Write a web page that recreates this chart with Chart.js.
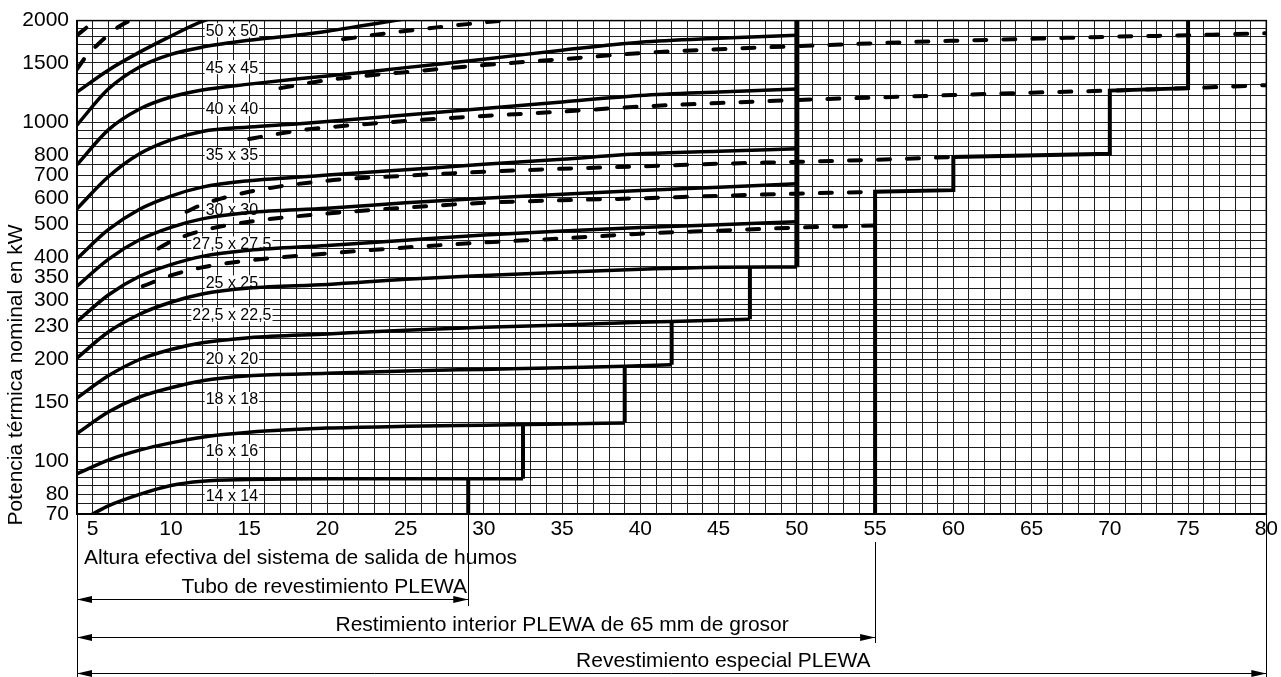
<!DOCTYPE html>
<html>
<head>
<meta charset="utf-8">
<script src="https://cdn.jsdelivr.net/npm/chart.js"></script>
<style>
  html, body { margin: 0; padding: 0; background: #fff; }
  canvas { display: block; }
</style>
</head>
<body>
<canvas id="chart" width="1281" height="677"></canvas>
<script>
// ---- axis ticks / grid ----
const xTickLabels = [5, 10, 15, 20, 25, 30, 35, 40, 45, 50, 55, 60, 65, 70, 75, 80];
const yTickValues = [70, 80, 100, 150, 200, 250, 300, 350, 400, 500, 600, 700, 800, 1000, 1500, 2000];
const yTickText   = ['70', '80', '100', '150', '200', '230', '300', '350', '400', '500', '600', '700', '800', '1000', '1500', '2000'];
const yGrid = [70, 75, 80, 85, 90, 95, 100, 110, 120, 130, 140, 150, 160, 170, 180, 190, 200,
  210, 220, 230, 240, 250, 260, 270, 280, 290, 300, 325, 350, 375, 400, 425, 450, 475, 500,
  550, 600, 650, 700, 750, 800, 850, 900, 950, 1000, 1100, 1200, 1300, 1400, 1500, 1600, 1700, 1800, 1900, 2000];

// ---- solid curves: height (m) -> nominal power (kW) ----
const h14 = [4, 5, 6, 8, 10, 12, 15, 20, 25, 32.5];
const p14 = [66.5, 70, 74, 80, 85, 87.5, 88.5, 89, 89, 89];
const h16 = [4, 6, 8, 10, 12, 15, 20, 25, 30, 35, 39];
const p16 = [92, 101, 108, 113.5, 118, 122, 125.5, 127, 128, 129, 130];
const h18 = [4, 6, 8, 10, 12, 15, 20, 25, 30, 35, 39, 42];
const p18 = [121, 140, 155, 165, 173, 179, 182, 185, 187, 189, 191, 193];
const h20 = [4, 6, 8, 10, 12, 15, 20, 25, 30, 35, 40, 42, 47];
const p20 = [154, 179, 200, 214, 224, 232, 238, 244, 249, 253, 257.5, 259, 263];
const h225 = [4, 6, 8, 10, 12, 15, 20, 25, 30, 35, 40, 45, 50];
const p225 = [202, 241, 272, 295, 312, 325, 333, 345, 354, 362, 369, 374, 375];
const p25  = [259, 310, 352, 381, 403, 420, 434, 450, 466, 479, 490, 500, 510];
const p275 = [329, 395, 451, 491, 520, 543, 559, 580, 598, 615, 630, 645, 660];
const h30 = [4, 6, 8, 10, 12, 15, 18, 20, 25, 30, 35, 40, 45, 50];
const p30 = [397, 483, 555, 607, 645, 674, 690, 700, 726, 753, 780, 809, 823, 837];
const p35 = [557, 692, 809, 889, 942, 971, 991, 1007, 1053, 1101, 1151, 1202, 1231, 1256];
const p40 = [751, 952, 1097, 1190, 1248, 1299, 1344, 1372, 1453, 1539, 1636, 1727, 1774, 1810];
const h45 = [4, 6, 8, 10, 12, 15, 18, 20, 22, 24, 26];
const p45 = [984, 1256, 1460, 1590, 1670, 1750, 1810, 1860, 1924, 1991, 2060];
const h50 = [4, 6, 8, 10, 12, 14];
const p50 = [1231, 1428, 1614, 1800, 1990, 2120];

// ---- dashed curves ----
const hd25 = [8.2, 10, 12, 15, 20, 25, 30, 35, 40, 45, 50, 55];
const pd25 = [329, 354, 374, 392, 411, 428, 443, 455, 470, 480, 490, 497];
const hd275 = [9.2, 10, 12, 15, 20, 25, 30, 35, 40, 45, 50, 55];
const pd275 = [425, 446, 480, 510, 539, 561, 580, 590, 598, 608, 617, 625];
const hd30 = [11, 12, 15, 20, 25, 30, 35, 40, 45, 50, 55, 60];
const pd30 = [546, 573, 625, 674, 697, 716, 731, 743, 756, 766, 777, 792];
const hd35 = [15, 18, 20, 25, 30, 35, 40, 45, 50, 55, 60, 65, 70, 75, 80];
const pd35 = [895, 945, 968, 1011, 1046, 1078, 1115, 1142, 1166, 1186, 1206, 1226, 1243, 1264, 1290];
const hd40 = [17, 20, 25, 30, 35, 40, 45, 50, 55, 60, 65, 70, 75, 80];
const pd40 = [1264, 1335, 1409, 1478, 1539, 1603, 1647, 1681, 1715, 1744, 1768, 1792, 1810, 1835];
const hd45 = [21, 24, 27, 30, 33];
const pd45 = [1762, 1840, 1910, 1975, 2040];
const hdA = [4, 4.64, 5.28, 5.98, 6.62, 7.38, 8];
const pdA = [1438, 1581, 1692, 1810, 1912, 2000, 2060];
const hdB = [4, 4.5, 5, 5.5];
const pdB = [1810, 1890, 1975, 2060];

// ---- limit steps (null = break) ----
const hStepL = [29, 29, null, 32.5, 32.5, null, 39, 39, null, 42, 42, null, 47, 47];
const pStepL = [69, 89, null, 89, 128.5, null, 130, 191, null, 193, 259, null, 263, 374];
const hStepR = [55, 55, 60, 60, 70, 70, 75, 75];
const pStepR = [69, 625, 632, 792, 809, 1243, 1264, 2100];
const hBar50 = [50, 50];
const pBar50 = [374, 2100];

// ---- curve labels ----
const sizeLabels = ['14 x 14', '16 x 16', '18 x 18', '20 x 20', '22,5 x 22,5', '25 x 25',
  '27,5 x 27,5', '30 x 30', '35 x 35', '40 x 40', '45 x 45', '50 x 50'];
const labelKw = [79.3, 107.5, 152.9, 201.8, 271.8, 337.6, 440, 553, 803, 1097, 1458, 1873];
const labelAt = 13.9;

const FONT = "'Liberation Sans', Arial, sans-serif";

function pts(hs, ps) {
  return hs.map((h, i) => ({ x: h === null ? NaN : h, y: ps[i] }));
}
function solid(hs, ps, w) {
  return { data: pts(hs, ps), borderColor: '#000', borderWidth: w || 3.5, pointRadius: 0,
    fill: false, cubicInterpolationMode: 'monotone', borderCapStyle: 'butt', borderJoinStyle: 'round' };
}
function dashed(hs, ps) {
  return { data: pts(hs, ps), borderColor: '#000', borderWidth: 4, pointRadius: 0, fill: false,
    cubicInterpolationMode: 'monotone', borderDash: [12, 17], borderCapStyle: 'round' };
}
function poly(hs, ps, w) {
  return { data: pts(hs, ps), borderColor: '#000', borderWidth: w, pointRadius: 0, fill: false,
    tension: 0, spanGaps: false, borderCapStyle: 'butt', borderJoinStyle: 'miter' };
}

const datasets = [
  solid(h14, p14), solid(h16, p16), solid(h18, p18), solid(h20, p20),
  solid(h225, p225), solid(h225, p25), solid(h225, p275),
  solid(h30, p30), solid(h30, p35), solid(h30, p40), solid(h45, p45), solid(h50, p50),
  dashed(hd25, pd25), dashed(hd275, pd275), dashed(hd30, pd30), dashed(hd35, pd35),
  dashed(hd40, pd40), dashed(hd45, pd45), dashed(hdA, pdA), dashed(hdB, pdB),
  poly(hStepL, pStepL, 4), poly(hStepR, pStepR, 4), poly(hBar50, pBar50, 5)
];

// bottom dimension arrows: extent in m, text centre in m
const dimTo    = [29, 55, 80];
const dimText  = ['Tubo de revestimiento PLEWA', 'Restimiento interior PLEWA de 65 mm de grosor', 'Revestimiento especial PLEWA'];
const dimTextX = [19.8, 35, 45.3];
const dimLineY = [599, 637, 673];

function arrowHead(ctx, x, y, dir) {
  ctx.beginPath();
  ctx.moveTo(x, y);
  ctx.lineTo(x - dir * 15, y - 3.5);
  ctx.lineTo(x - dir * 15, y + 3.5);
  ctx.closePath();
  ctx.fill();
}

const extras = {
  id: 'extras',
  beforeDatasetsDraw(chart) {
    const ctx = chart.ctx, xs = chart.scales.x, ys = chart.scales.y;
    ctx.save();
    ctx.font = '16px ' + FONT;
    ctx.textAlign = 'center';
    ctx.textBaseline = 'middle';
    sizeLabels.forEach((t, i) => {
      const px = xs.getPixelForValue(labelAt), py = ys.getPixelForValue(labelKw[i]);
      const w = ctx.measureText(t).width;
      ctx.fillStyle = '#fff';
      ctx.fillRect(px - w / 2 - 1, py - 7, w + 2, 14);
      ctx.fillStyle = '#000';
      ctx.fillText(t, px, py + 1);
    });
    ctx.restore();
  },
  afterDraw(chart) {
    const ctx = chart.ctx, a = chart.chartArea, xs = chart.scales.x;
    ctx.save();
    ctx.strokeStyle = '#000';
    ctx.lineWidth = 1.5;
    ctx.strokeRect(a.left, a.top, a.right - a.left, a.bottom - a.top);

    // y title
    ctx.fillStyle = '#000';
    ctx.font = '21px ' + FONT;
    ctx.textBaseline = 'middle';
    ctx.save();
    ctx.translate(16, 375);
    ctx.rotate(-Math.PI / 2);
    ctx.textAlign = 'center';
    ctx.fillText('Potencia térmica nominal en kW', 0, 0);
    ctx.restore();

    // x title
    ctx.textAlign = 'left';
    ctx.fillText('Altura efectiva del sistema de salida de humos', 84, 558);

    // extension lines
    ctx.lineWidth = 1;
    const x0 = xs.getPixelForValue(4);
    const ext = [[4, a.bottom, 677], [29, a.bottom, 606], [55, 542, 643], [80, a.bottom, 677]];
    ext.forEach(e => {
      const px = Math.round(xs.getPixelForValue(e[0])) + 0.5;
      ctx.beginPath(); ctx.moveTo(px, e[1]); ctx.lineTo(px, e[2]); ctx.stroke();
    });

    // dimension arrows
    ctx.textAlign = 'center';
    dimTo.forEach((to, i) => {
      const x1 = x0, x2 = xs.getPixelForValue(to), y = dimLineY[i] + 0.5;
      ctx.beginPath(); ctx.moveTo(x1, y); ctx.lineTo(x2, y); ctx.stroke();
      arrowHead(ctx, x1, y, -1);
      arrowHead(ctx, x2, y, 1);
      ctx.fillText(dimText[i], xs.getPixelForValue(dimTextX[i]), dimLineY[i] - 12);
    });
    ctx.restore();
  }
};

new Chart(document.getElementById('chart'), {
  type: 'line',
  data: { datasets },
  options: {
    responsive: false,
    animation: false,
    events: [],
    layout: { padding: { top: 18, right: 13, left: 0, bottom: 0 } },
    plugins: { legend: { display: false }, tooltip: { enabled: false } },
    scales: {
      x: {
        type: 'linear', min: 4, max: 80,
        afterFit(s) { s.height = 163; },
        afterBuildTicks(s) {
          const t = [];
          for (let v = 4; v <= 80; v++) t.push({ value: v });
          s.ticks = t;
        },
        ticks: {
          autoSkip: false, maxRotation: 0, padding: 3, color: '#000',
          font: { family: FONT, size: 21 },
          callback: v => xTickLabels.includes(v) ? String(v) : ''
        },
        grid: { color: '#1e1e1e', lineWidth: 1, drawTicks: false },
        border: { color: '#000', width: 1.5 }
      },
      y: {
        type: 'logarithmic', min: 70, max: 2000,
        afterFit(s) { s.width = 77; },
        afterBuildTicks(s) { s.ticks = yGrid.map(v => ({ value: v })); },
        ticks: {
          autoSkip: false, padding: 8, color: '#000',
          font: { family: FONT, size: 21 },
          callback: v => { const i = yTickValues.indexOf(v); return i >= 0 ? yTickText[i] : ''; }
        },
        grid: { color: '#1e1e1e', lineWidth: 1, drawTicks: false },
        border: { color: '#000', width: 1.5 }
      }
    }
  },
  plugins: [extras]
});
</script>
</body>
</html>
